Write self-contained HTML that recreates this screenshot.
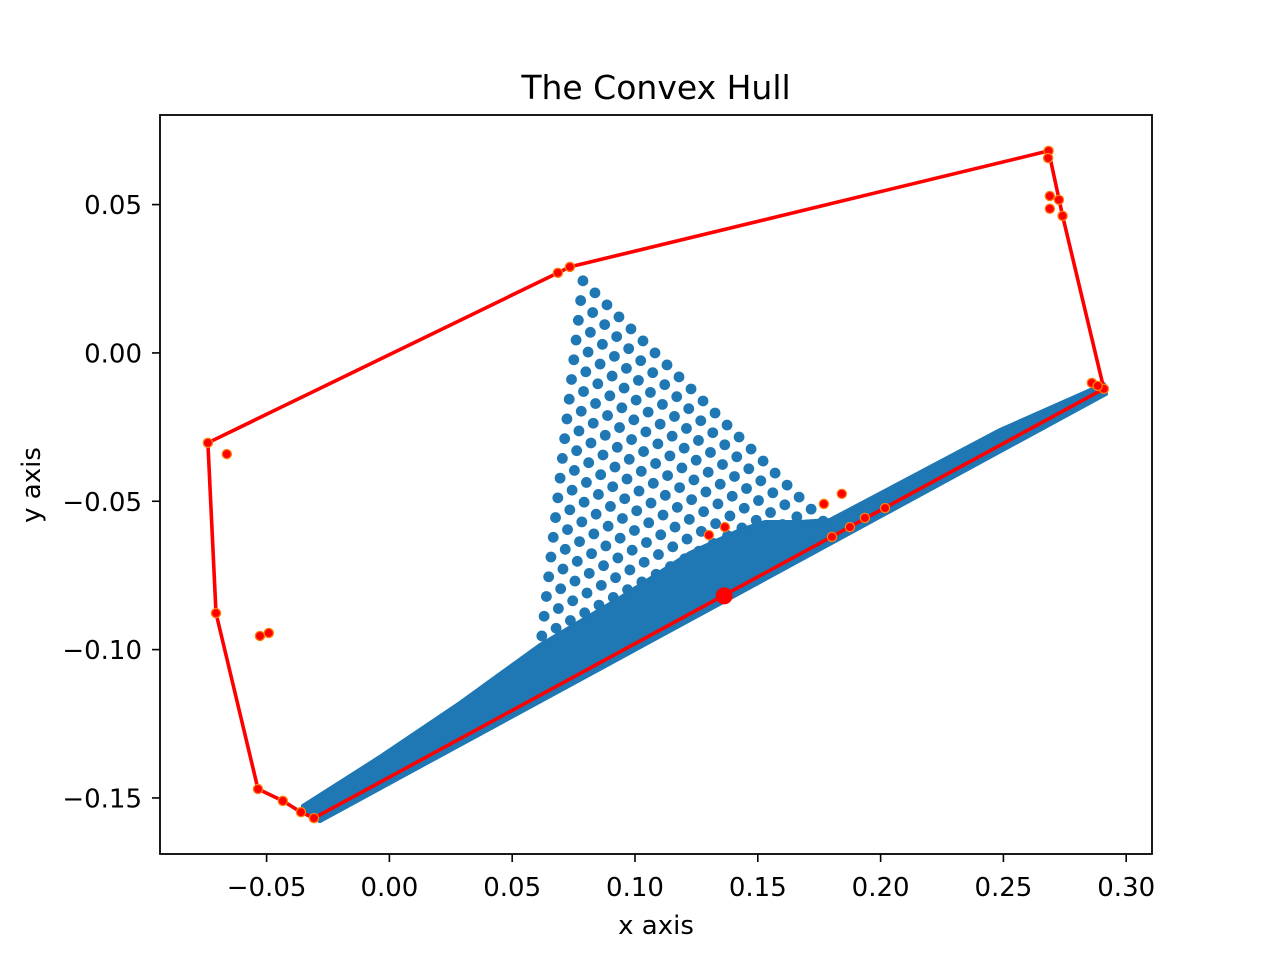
<!DOCTYPE html>
<html><head><meta charset="utf-8"><style>
body{margin:0;background:#fff}
svg text{font-family:"DejaVu Sans","Liberation Sans",sans-serif;fill:#000}
</style></head><body>
<svg id="chart" width="1280" height="960" xmlns="http://www.w3.org/2000/svg">
<rect width="1280" height="960" fill="#fff"/>
<text x="656" y="99" font-size="33" text-anchor="middle">The Convex Hull</text>
<g id="plot"></g>
<g id="axes"></g>
<text x="656" y="934" font-size="26" text-anchor="middle">x axis</text>
<text transform="translate(40,485) rotate(-90)" font-size="26" text-anchor="middle">y axis</text>
</svg>
<script>
const xTicks=[-0.05,0,0.05,0.10,0.15,0.20,0.25,0.30];
const xTickLabels=["\u22120.05","0.00","0.05","0.10","0.15","0.20","0.25","0.30"];
const yTicks=[0.05,0,-0.05,-0.10,-0.15];
const yTickLabels=["0.05","0.00","\u22120.05","\u22120.10","\u22120.15"];
const hullX=[-0.0739,-0.0706,-0.0535,-0.0434,-0.0360,-0.0307,0.2909,0.2741,0.2684,0.0735,0.0686,-0.0739];
const hullY=[-0.0303,-0.0877,-0.1470,-0.1510,-0.1548,-0.1568,-0.0121,0.0462,0.0681,0.0290,0.0270,-0.0303];
const extraX=[-0.0662,-0.0527,-0.0491,0.2682,0.2689,0.2689,0.2726,0.2860,0.2884,0.1301,0.1366,0.1769,0.1842,0.1802,0.1875,0.1936,0.2018];
const extraY=[-0.0341,-0.0954,-0.0944,0.0657,0.0529,0.0486,0.0516,-0.0101,-0.0111,-0.0614,-0.0587,-0.0509,-0.0475,-0.0620,-0.0587,-0.0556,-0.0523];
const centerX=[0.1363];
const centerY=[-0.0819];
const bandX=[-0.0352,-0.0039,0.0287,0.0613,0.0939,0.1224,0.1427,0.1529,0.1671,0.1794,0.2486,0.2909,0.2918,-0.0283,-0.0352];
const bandY=[-0.1527,-0.1362,-0.1180,-0.0985,-0.0826,-0.0674,-0.0597,-0.0570,-0.0570,-0.0563,-0.0260,-0.0105,-0.0138,-0.1578,-0.1548];
const latticeApex=[0.0788,0.0243];
const latticeU=[0.00489,-0.00405];
const latticeV=[-0.00582,-0.00260];
const latticeM=21, latticeN=19;

const NS="http://www.w3.org/2000/svg";
const X0=160,X1=1152,Y0=115,Y1=854;
const xmin=-0.0934,xmax=0.3105,ymin=-0.1689,ymax=0.0802;
const sx=v=>X0+(v-xmin)/(xmax-xmin)*(X1-X0);
const sy=v=>Y1-(v-ymin)/(ymax-ymin)*(Y1-Y0);
const plot=document.getElementById('plot'), axes=document.getElementById('axes');
function mk(tag,attrs,parent){const e=document.createElementNS(NS,tag);for(const k in attrs)e.setAttribute(k,attrs[k]);parent.appendChild(e);return e;}

for(let n=0;n<=latticeN;n++){for(let m=n;m<=latticeM;m++){
  const x=latticeApex[0]+m*latticeU[0]+n*latticeV[0];
  const y=latticeApex[1]+m*latticeU[1]+n*latticeV[1];
  const c=mk('circle',{cx:sx(x),cy:sy(y),r:5.4,fill:'#1f77b4'},plot);
  
  
}}
const band=mk('polygon',{points:bandX.map((x,i)=>sx(x)+','+sy(bandY[i])).join(' '),fill:'#1f77b4',stroke:'#1f77b4','stroke-width':4,'stroke-linejoin':'round'},plot);


const hull=mk('polyline',{points:hullX.map((x,i)=>sx(x)+','+sy(hullY[i])).join(' '),fill:'none',stroke:'#ff0000','stroke-width':3.6,'stroke-linejoin':'round'},plot);


function redPts(xs,ys,r){xs.forEach((x,i)=>{
  const c=mk('circle',{cx:sx(x),cy:sy(ys[i]),r:r,fill:'#ff0000',stroke:'#ff7f0e','stroke-width':1.3},plot);
  
  
});}
redPts(hullX.slice(0,-1),hullY.slice(0,-1),4.6);
redPts(extraX,extraY,4.6);
const cp=mk('circle',{cx:sx(centerX[0]),cy:sy(centerY[0]),r:8.5,fill:'#ff0000'},plot);



const fr=mk('rect',{x:X0,y:Y0,width:X1-X0,height:Y1-Y0,fill:'none',stroke:'#000','stroke-width':1.8},axes);


xTicks.forEach((v,i)=>{
  const t=mk('line',{x1:sx(v),x2:sx(v),y1:Y1,y2:Y1+8,stroke:'#000','stroke-width':1.6},axes);
  
  
  const l=mk('text',{x:sx(v),y:Y1+42,'font-size':26,'text-anchor':'middle'},axes);
  l.textContent=xTickLabels[i];
  
  
});
yTicks.forEach((v,i)=>{
  const t=mk('line',{x1:X0-8,x2:X0,y1:sy(v),y2:sy(v),stroke:'#000','stroke-width':1.6},axes);
  
  
  const l=mk('text',{x:X0-18,y:sy(v)+9.5,'font-size':26,'text-anchor':'end'},axes);
  l.textContent=yTickLabels[i];
  
  
});
</script>
</body></html>
